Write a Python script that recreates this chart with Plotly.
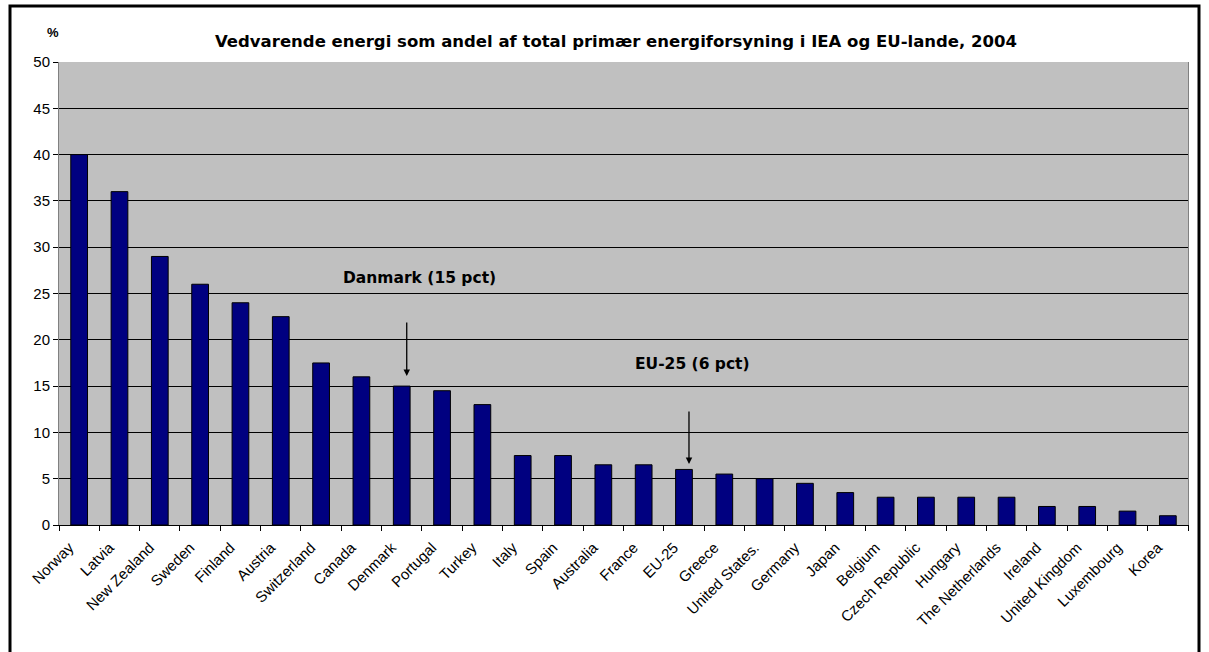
import plotly.graph_objects as go

countries = ["Norway", "Latvia", "New Zealand", "Sweden", "Finland", "Austria", "Switzerland",
             "Canada", "Denmark", "Portugal", "Turkey", "Italy", "Spain", "Australia", "France",
             "EU-25", "Greece", "United States.", "Germany", "Japan", "Belgium", "Czech Republic",
             "Hungary", "The Netherlands", "Ireland", "United Kingdom", "Luxembourg", "Korea"]
shares = [40, 36, 29, 26, 24, 22.5, 17.5, 16, 15, 14.5, 13, 7.5, 7.5, 6.5, 6.5,
          6, 5.5, 5, 4.5, 3.5, 3, 3, 3, 3, 2, 2, 1.5, 1]
y_ticks = [0, 5, 10, 15, 20, 25, 30, 35, 40, 45, 50]

title_text = "Vedvarende energi som andel af total primær energiforsyning i IEA og EU-lande, 2004"
FONT = "Arial, Liberation Sans, sans-serif"
WIDE = "DejaVu Sans, Verdana, sans-serif"

fig = go.Figure()
fig.add_trace(go.Bar(
    x=countries, y=shares,
    marker=dict(color="#000080", line=dict(color="black", width=1)),
    showlegend=False,
))

fig.update_layout(
    width=1209, height=652,
    margin=dict(l=59, r=21, t=62, b=127),
    paper_bgcolor="white",
    plot_bgcolor="#C0C0C0",
    bargap=0.585,
    font=dict(family=FONT, color="black"),
    xaxis=dict(
        type="category", tickangle=-45, tickfont=dict(size=15, family=FONT),
        ticks="outside", ticklen=5, tickcolor="black", tickson="boundaries",
        ticklabelshift=-10, ticklabelstandoff=7,
        showgrid=False, showline=True, linecolor="black", linewidth=1,
    ),
    yaxis=dict(
        range=[0, 50], tickvals=y_ticks, tickfont=dict(size=15, family=FONT),
        ticks="outside", ticklen=5, tickcolor="black",
        showgrid=True, gridcolor="black", gridwidth=1,
        showline=True, linecolor="#808080", linewidth=1, mirror=True,
        zeroline=False,
    ),
    annotations=[
        dict(text="<b>" + title_text + "</b>", xref="paper", yref="paper",
             x=(616 - 59) / 1129, y=(525 - 41) / 463, showarrow=False,
             font=dict(size=16.5, family=WIDE), xanchor="center", yanchor="middle"),
        dict(text="<b>%</b>", xref="paper", yref="paper", x=(53 - 59) / 1129,
             y=(525 - 33) / 463, showarrow=False, font=dict(size=13, family=FONT),
             xanchor="center", yanchor="middle"),
        dict(text="<b>Danmark (15 pct)</b>", xref="paper", yref="paper",
             x=(419 - 59) / 1129, y=(525 - 278) / 463, showarrow=False,
             font=dict(size=15.5, family=WIDE), xanchor="center", yanchor="middle"),
        dict(text="<b>EU-25 (6 pct)</b>", xref="paper", yref="paper",
             x=(692 - 59) / 1129, y=(525 - 364) / 463, showarrow=False,
             font=dict(size=15.5, family=WIDE), xanchor="center", yanchor="middle"),
        dict(x="Denmark", y=16.1, xref="x", yref="y", text="", showarrow=True,
             ax=0, ay=-55, xshift=5, arrowhead=2, arrowsize=1, arrowwidth=1.3,
             arrowcolor="black"),
        dict(x="EU-25", y=6.6, xref="x", yref="y", text="", showarrow=True,
             ax=0, ay=-54, xshift=5, arrowhead=2, arrowsize=1, arrowwidth=1.3,
             arrowcolor="black"),
    ],
    shapes=[
        dict(type="rect", xref="paper", yref="paper",
             x0=(10 - 59) / 1129, x1=(1199 - 59) / 1129,
             y0=(525 - 670) / 463, y1=(525 - 6) / 463,
             line=dict(color="black", width=3), fillcolor="rgba(0,0,0,0)", layer="below"),
    ],
)

fig.write_html("out.html", config={"displayModeBar": False},
               post_script="document.body.style.margin='0';document.body.style.overflow='hidden';")
